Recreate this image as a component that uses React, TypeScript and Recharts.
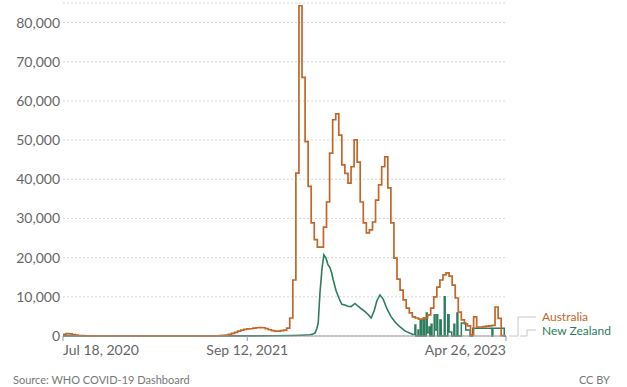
import React from 'react';
import { LineChart, Line, XAxis, YAxis, CartesianGrid } from 'recharts';

// Weekly Australia values, one per week starting Jul 18, 2020
const ausWeekly = [
  450, 600, 550, 380, 220, 130, 80, 50, 30, 20,
  15, 12, 10, 10, 10, 12, 10, 8, 10, 10,
  12, 10, 15, 20, 15, 10, 10, 8, 8, 8,
  8, 8, 8, 10, 10, 12, 15, 10, 10, 10,
  10, 10, 12, 15, 12, 10, 12, 15, 20, 30,
  60, 100, 150, 250, 400, 650, 950, 1250, 1500, 1700,
  1800, 1850, 2000, 2100, 2150, 2100, 1900, 1600, 1350, 1250,
  1250, 1350, 1500, 2000, 4600, 14300, 41600, 84300, 66000, 49600,
  38200, 28900, 24600, 22700, 22700, 27800, 34200, 46700, 55200, 56700,
  51300, 43700, 41500, 39000, 43200, 50100, 44400, 34200, 28900, 26300,
  27100, 29100, 34700, 38600, 43200, 45700, 37800, 28900, 19900, 14500,
  11700, 9200, 7100, 5900, 4900, 4600, 4300, 4300, 4600, 5400,
  7100, 10000, 12500, 14300, 15600, 16100, 15300, 13000, 9700, 6100,
  4100, 3100, 2600, 300, 4900, 2300, 2300, 2400, 2500, 2600,
  2700, 7400, 4500, 100, 0,
];

// New Zealand, daily part (days since Jul 18, 2020)
const nzDailyDays = [
  0, 30, 100, 200, 300, 400, 480, 520, 545, 555, 564, 571, 576, 580, 583, 587, 592, 596,
  601, 605, 610, 614, 617, 624, 631, 637, 644, 651, 658, 667, 674, 681, 690, 697, 704,
  711, 717, 724, 731, 740, 749, 759, 770, 781, 793, 800,
];
const nzDailyValues = [
  30, 10, 5, 5, 10, 20, 60, 120, 200, 250, 300, 500, 800, 2000, 3300, 11000, 17600, 20700,
  19800, 18300, 17400, 16000, 14500, 11500, 9500, 8100, 7900, 7600, 7500, 8300, 7600,
  7000, 6200, 5500, 4600, 6500, 9000, 10500, 9500, 7000, 5000, 3500, 2300, 1300, 700, 400,
];

// New Zealand, weekly-reported part
const nzWeeklyDays = [
  800, 804, 806, 811, 812, 816, 819, 823, 826, 830,
  832, 836, 838, 841, 843, 848, 850, 854, 856, 861,
  864, 871, 873, 879, 882, 888, 893, 895, 900, 902,
  910, 920, 930, 936, 980, 982, 1008, 1012,
];
const nzWeeklyValues = [
  400, 2800, 0, 1500, 0, 4100, 0, 4600, 0, 5900,
  800, 2300, 0, 3000, 0, 5400, 1500, 5400, 0, 4100,
  0, 10000, 0, 5400, 1000, 0, 3000, 0, 5900, 0,
  3300, 1500, 0, 2000, 0, 2000, 0, 0,
];

const xTickDays = [0, 421, 1012];
const xTickLabels = ['Jul 18, 2020', 'Sep 12, 2021', 'Apr 26, 2023'];
const yTicks = [0, 10000, 20000, 30000, 40000, 50000, 60000, 70000, 80000];

const AUS_COLOR = '#c4662a';
const NZ_COLOR = '#2c7d5d';
const FONT = 'Lato, "Open Sans", sans-serif';

function buildTable() {
  const rows = new Map<number, any>();
  const put = (day: number, key: string, v: number) => {
    const r = rows.get(day) || { day };
    r[key] = v;
    rows.set(day, r);
  };
  ausWeekly.forEach((v, i) => put(i * 7, 'aus', v));
  nzDailyDays.forEach((d, i) => put(d, 'nzDaily', nzDailyValues[i]));
  nzWeeklyDays.forEach((d, i) => put(d, 'nzWeekly', nzWeeklyValues[i]));
  return Array.from(rows.values()).sort((a, b) => a.day - b.day);
}

const data = buildTable();

const XTick = (props: any) => {
  const { x, y, payload } = props;
  const idx = xTickDays.indexOf(payload.value);
  const anchor = idx === 0 ? 'start' : idx === xTickDays.length - 1 ? 'end' : 'middle';
  return (
    <text x={x} y={y} dy="0.71em" textAnchor={anchor} fill="#666" fontSize={14} fontFamily={FONT}>
      {xTickLabels[idx]}
    </text>
  );
};

export default function App() {
  return (
    <div style={{ position: 'absolute', top: 0, left: 0, width: 627, height: 387, background: '#fff', fontFamily: FONT }}>
      <LineChart
        width={627}
        height={360}
        data={data}
        margin={{ top: 3, right: 121, bottom: 0, left: 0 }}
      >
        <CartesianGrid vertical={false} stroke="#d6d6d6" strokeDasharray="2 2" />
        <XAxis
          dataKey="day"
          type="number"
          domain={[0, 1012]}
          ticks={xTickDays}
          interval={0}
          height={24}
          tickSize={5}
          tickMargin={4}
          stroke="#999"
          tick={<XTick />}
        />
        <YAxis
          type="number"
          domain={[0, 85000]}
          ticks={yTicks}
          width={63}
          axisLine={false}
          tickLine={false}
          tickSize={0}
          tickMargin={3}
          tick={{ fill: '#666', fontSize: 14, fontFamily: FONT }}
          tickFormatter={(v: number) => v.toLocaleString('en-US')}
        />
        <Line dataKey="nzDaily" type="linear" stroke={NZ_COLOR} strokeWidth={1.6} dot={false} connectNulls isAnimationActive={false} />
        <Line dataKey="nzWeekly" type="stepAfter" stroke={NZ_COLOR} strokeWidth={1.5} dot={false} connectNulls isAnimationActive={false} />
        <Line dataKey="aus" type="stepAfter" stroke={AUS_COLOR} strokeWidth={1.7} dot={false} connectNulls isAnimationActive={false} />
      </LineChart>

      <svg width={627} height={387} style={{ position: 'absolute', top: 0, left: 0, pointerEvents: 'none' }}>
        <polyline points="509,336 518,336 518,317 536,317" fill="none" stroke="#c8c8c8" strokeWidth={1} />
        <polyline points="520,336 527,336 527,330 536,330" fill="none" stroke="#c8c8c8" strokeWidth={1} />
      </svg>
      <div style={{ position: 'absolute', left: 542, top: 310, fontSize: 12, color: AUS_COLOR, lineHeight: '13px' }}>Australia</div>
      <div style={{ position: 'absolute', left: 542, top: 324, fontSize: 12, color: NZ_COLOR, lineHeight: '13px' }}>New Zealand</div>

      <div style={{ position: 'absolute', left: 13, top: 373, fontSize: 11, color: '#777', lineHeight: '13px' }}>
        Source: WHO COVID-19 Dashboard
      </div>
      <div style={{ position: 'absolute', right: 17, top: 373, fontSize: 11, color: '#777', lineHeight: '13px' }}>CC BY</div>
    </div>
  );
}
